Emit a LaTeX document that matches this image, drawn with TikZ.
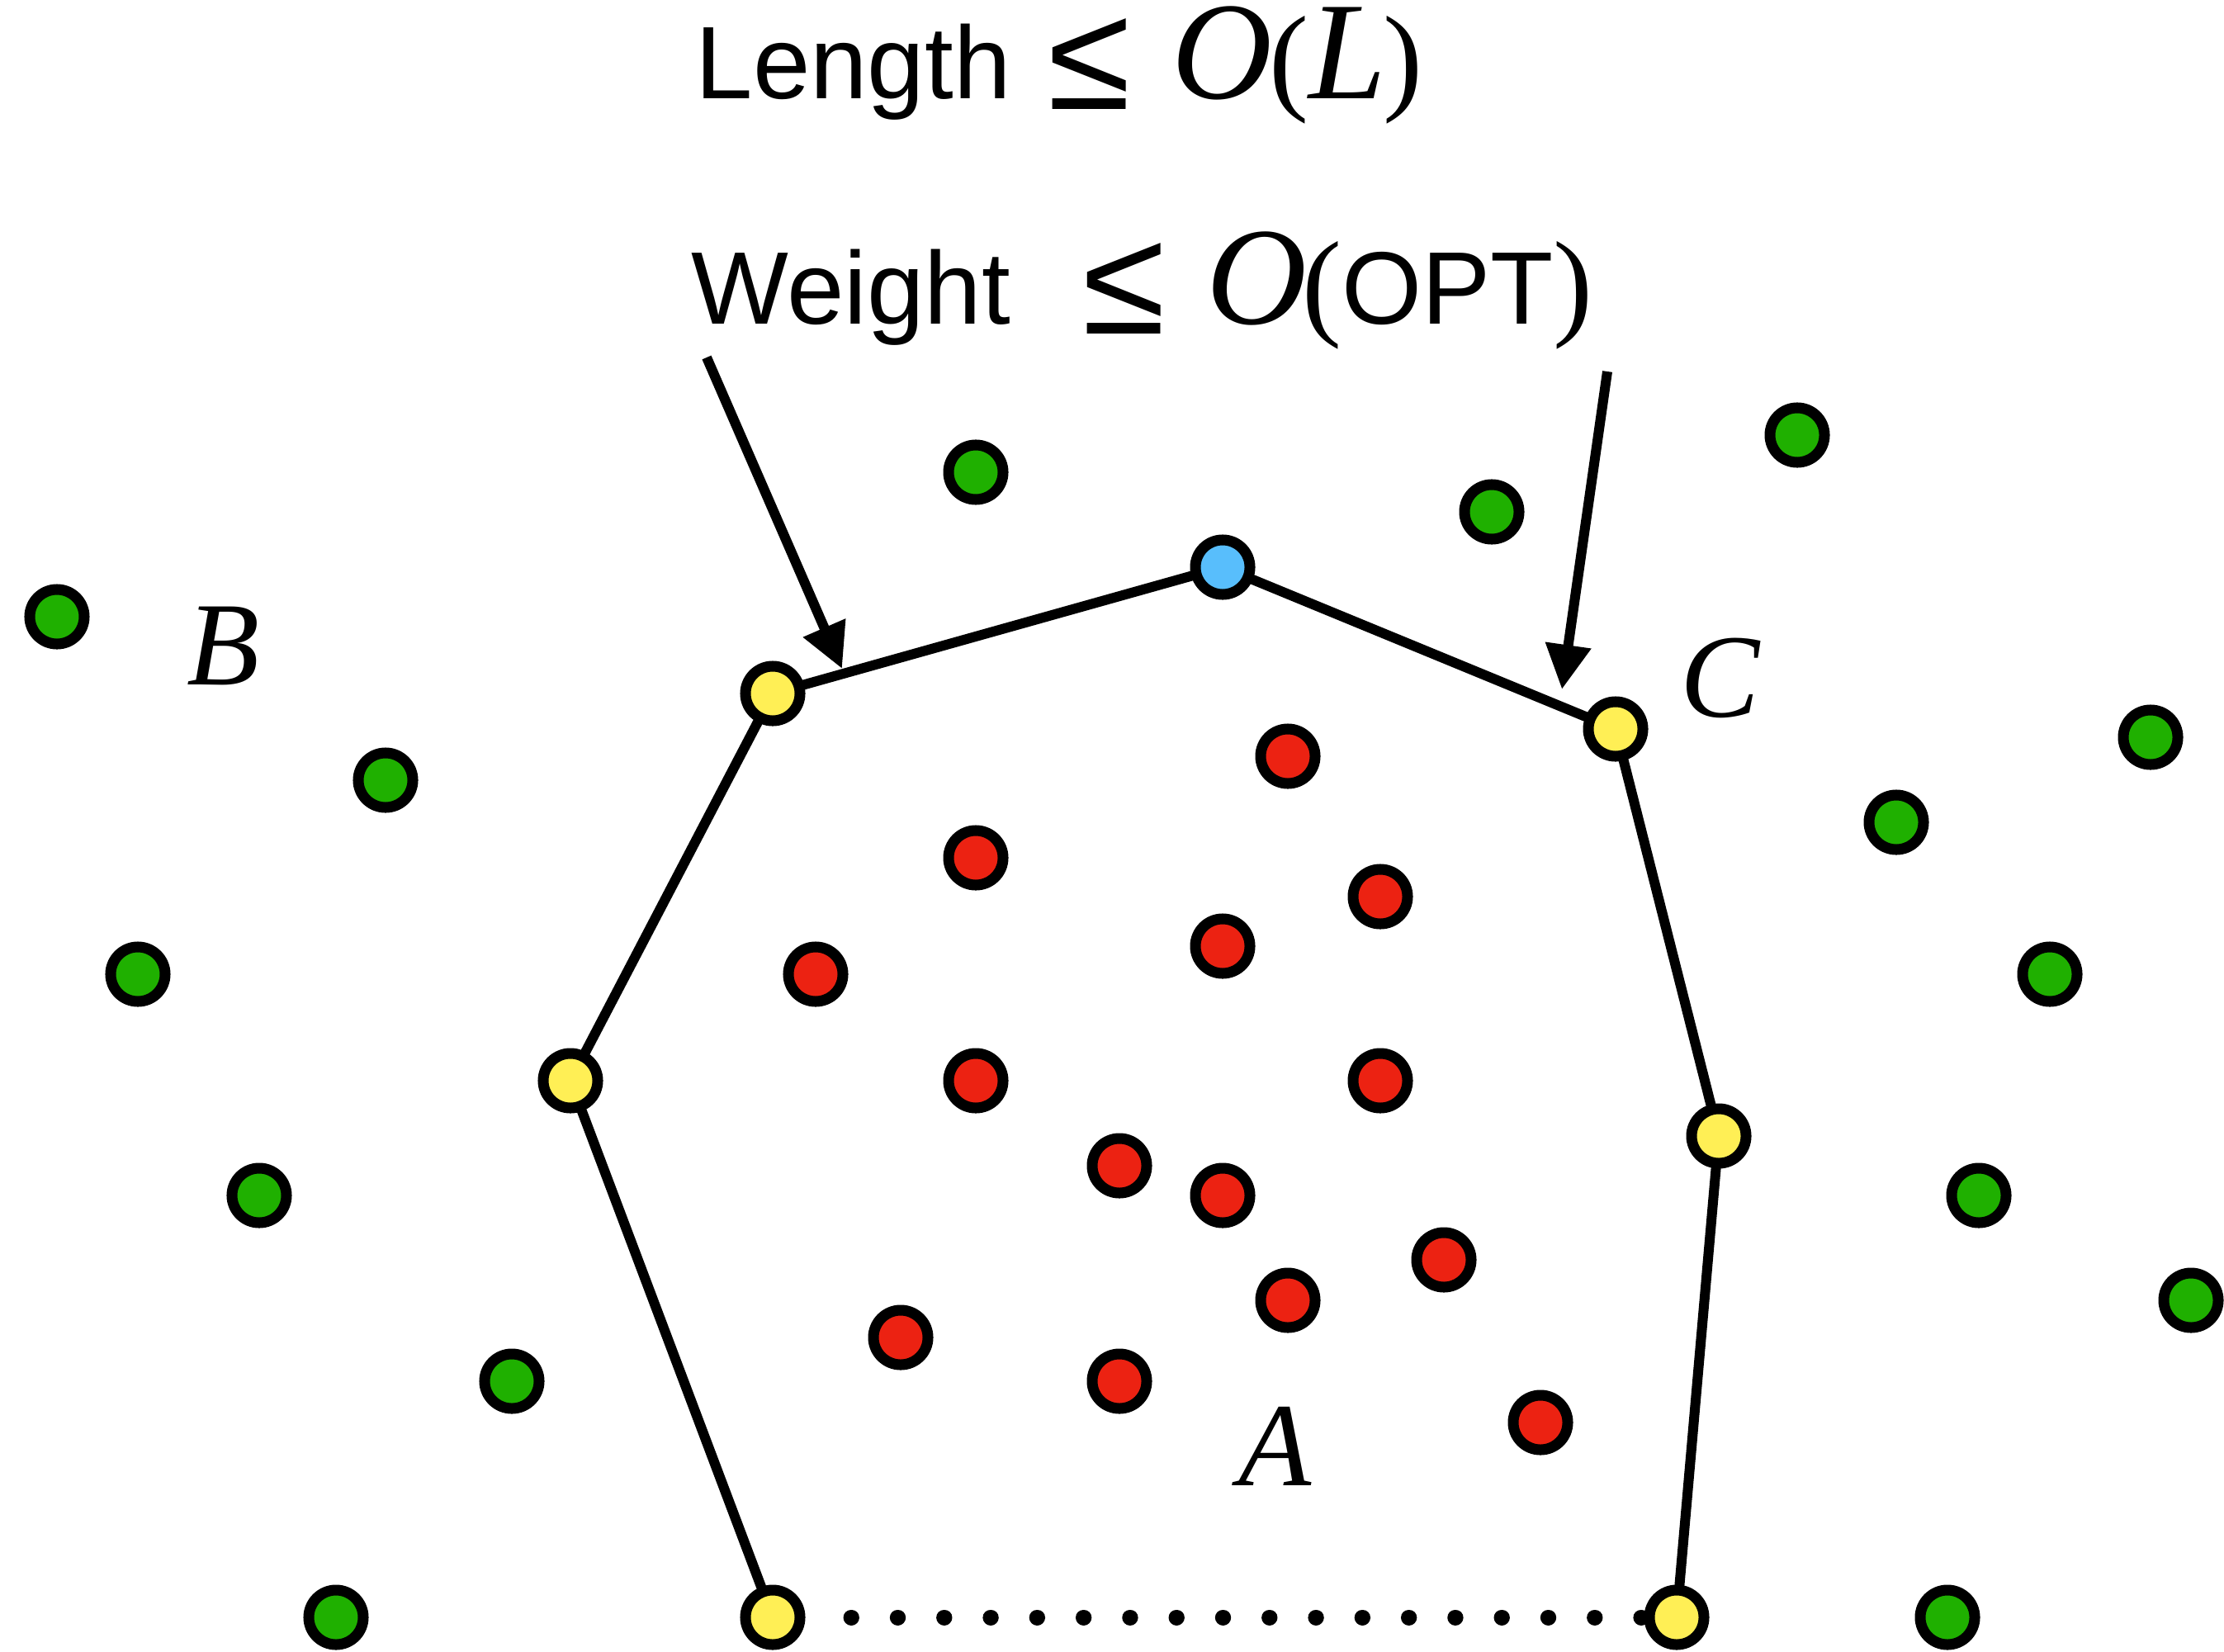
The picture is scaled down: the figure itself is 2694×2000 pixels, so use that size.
\documentclass[tikz,border=0pt]{standalone}
\usepackage{fontspec}
\setmainfont{Liberation Serif}
\setsansfont{Liberation Sans}
\usetikzlibrary{arrows.meta}
\definecolor{ptgreen}{RGB}{31,176,0}
\definecolor{ptred}{RGB}{236,34,18}
\definecolor{ptyellow}{RGB}{255,239,85}
\definecolor{ptblue}{RGB}{88,190,252}
\pgfdeclarelayer{background}
\pgfsetlayers{background,main}
\newcommand{\bigit}[1]{{\fontsize{48}{52}\selectfont\rmfamily\itshape #1}}
\newcommand{\bigpar}[1]{{\fontsize{41}{46}\selectfont\rmfamily #1}}
\newcommand{\bigle}{\raisebox{-.12cm}{\fontsize{52}{56}\selectfont\sffamily ≤}}
\begin{document}
\begin{tikzpicture}[x=.01cm,y=-.01cm,line cap=round,line join=round,
  pt/.style={circle,draw,line width=.13cm,inner sep=0pt,minimum size=.66cm},
  tour/.style={line width=.12cm,line cap=round},
  dotrow/.style={line width=.19cm,line cap=round,dash pattern=on .1pt off .559cm,shorten <=.555cm},
  pointer/.style={line width=.12cm,line cap=butt,-{Triangle[length=.54cm,width=.53cm]}},
  setlbl/.style={font=\fontsize{41}{45}\selectfont\itshape,inner sep=0pt},
  bound/.style={anchor=base west,inner sep=0pt,font=\fontsize{35.5}{40}\selectfont\sffamily}]
\useasboundingbox (0,0) rectangle (2694,2000);
\node[bound] (lenbd) at (842,120) {Length\hspace{.45cm}\bigle\hspace{.5cm}\bigit{O}\hspace{-.04cm}\bigpar{(}\bigit{L}\hspace{-.04cm}\bigpar{)}};
\node[bound] (wtbd) at (837,392) {Weight\hspace{.87cm}\bigle\hspace{.5cm}\bigit{O}\hspace{-.06cm}\bigpar{(}OPT\bigpar{)}};
\node[setlbl] (setB) at (271,782) {B};
\node[setlbl] (setC) at (2084,821) {C};
\node[setlbl] (setA) at (1545,1752) {A};
\foreach \p [count=\i] in {(69,747),(1182,572),(1807,620),(2177,527),(467,945),(167,1180),(314,1448),(620,1673),(407,1959),(2605,893),(2297,996),(2483,1180),(2397,1448),(2654,1575),(2359,1959)}
  \node[pt,fill=ptgreen] (g\i) at \p {};
\foreach \p [count=\i] in {(1560,916),(1182,1039),(1672,1086),(1481,1146),(988,1180),(1182,1309),(1672,1309),(1356,1412),(1481,1448),(1749,1526),(1560,1575),(1091,1620),(1356,1673),(1866,1723)}
  \node[pt,fill=ptred] (r\i) at \p {};
\node[pt,fill=ptyellow] (y1) at (936,1959) {};
\node[pt,fill=ptyellow] (y2) at (691,1309) {};
\node[pt,fill=ptyellow] (y3) at (936,840) {};
\node[pt,fill=ptblue] (top) at (1481,687) {};
\node[pt,fill=ptyellow] (y4) at (1957,883) {};
\node[pt,fill=ptyellow] (y5) at (2082,1376) {};
\node[pt,fill=ptyellow] (y6) at (2031,1959) {};
\begin{pgfonlayer}{background}
\draw[tour] (y1)--(y2);
\draw[tour] (y2)--(y3);
\draw[tour] (y3)--(top);
\draw[tour] (top)--(y4);
\draw[tour] (y4)--(y5);
\draw[tour] (y5)--(y6);
\draw[dotrow] (y1)--(y6);
\end{pgfonlayer}
\coordinate (wtail) at (856,433);
\coordinate (wtip) at (1020,810);
\coordinate (ltail) at (1947,450);
\coordinate (ltip) at (1892,835);
\draw[pointer] (wtail)--(wtip);
\draw[pointer] (ltail)--(ltip);
\end{tikzpicture}
\end{document}
